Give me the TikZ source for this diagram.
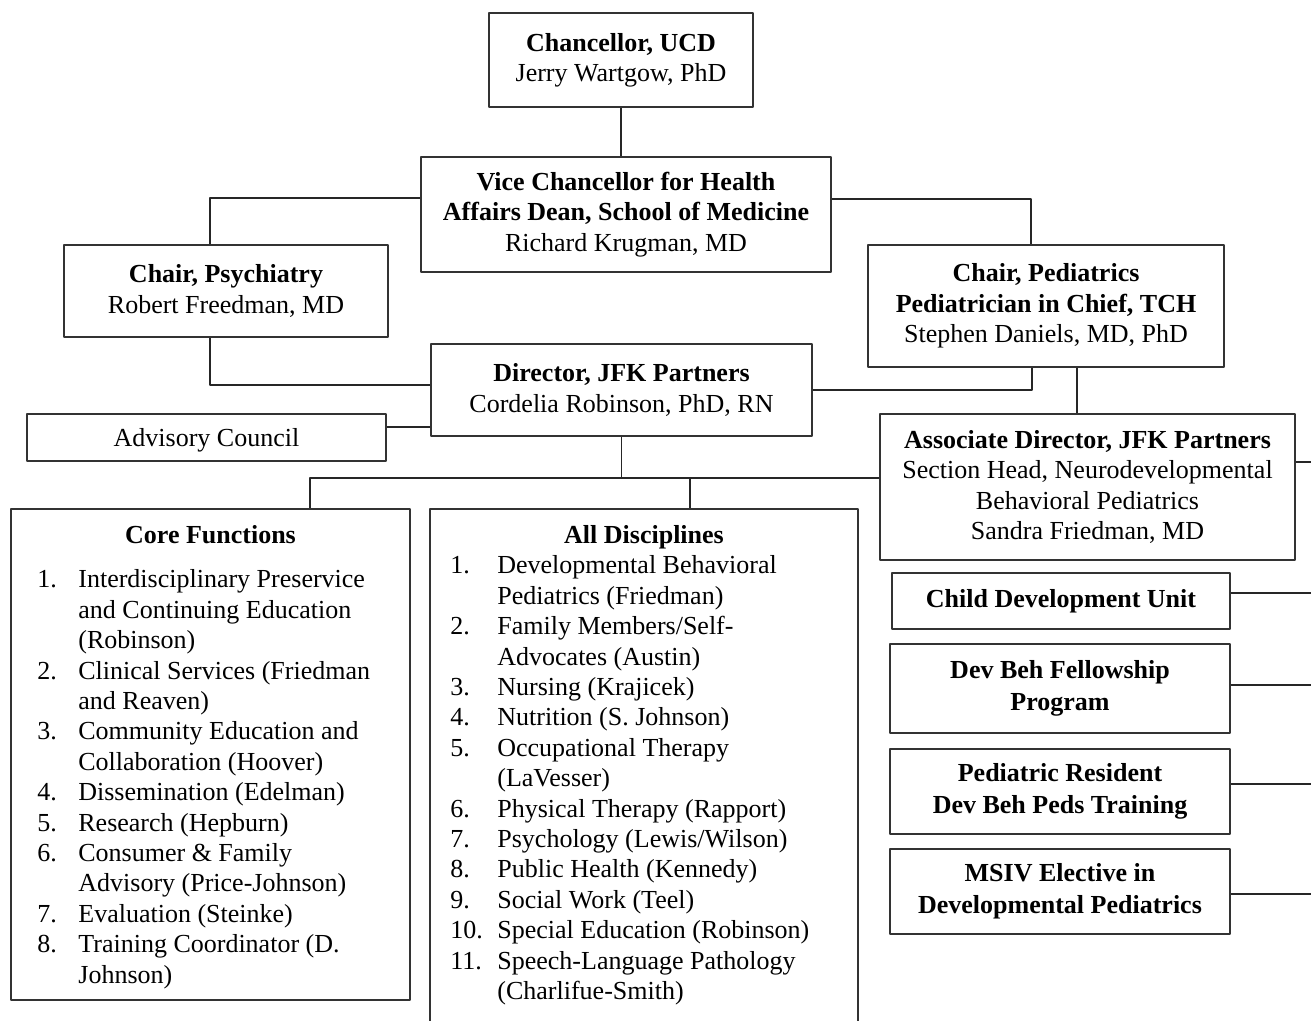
\documentclass[tikz,border=0pt]{standalone}
\usepackage{fontspec}
\setmainfont{Liberation Serif}
\usetikzlibrary{calc}
\newlength\itmw
\newcommand\itm[2]{\makebox[\itmw][l]{#1}#2}
\begin{document}
\begin{tikzpicture}[x=0.5pt,y=-0.5pt,line join=round,font=\fontsize{13}{15.2}\selectfont,
    box/.style={draw=black!80,line width=1.1pt,align=center,inner sep=0pt},
    unit/.style={box,font=\fontsize{13}{16}\selectfont\bfseries},
    link/.style={line width=0.75pt,draw=black!85}]
    \useasboundingbox (0,0) rectangle (1311,1021);
    % top of the chart
    \node[box,minimum width=132pt,minimum height=47pt] (chan) at (621,60) {\textbf{Chancellor, UCD}\\Jerry Wartgow, PhD};
    \node[box,minimum width=205pt,minimum height=57.5pt] (vc) at (626,214.5) {\textbf{Vice Chancellor for Health}\\\textbf{Affairs Dean, School of Medicine}\\Richard Krugman, MD};
    \node[box,minimum width=162pt,minimum height=46pt] (psych) at (226,291) {\textbf{Chair, Psychiatry}\\Robert Freedman, MD};
    \node[box,minimum width=178pt,minimum height=61pt] (peds) at (1046,306) {\textbf{Chair, Pediatrics}\\\textbf{Pediatrician in Chief, TCH}\\Stephen Daniels, MD, PhD};
    \node[box,minimum width=190.5pt,minimum height=46pt] (dir) at (621.5,390) {\textbf{Director, JFK Partners}\\Cordelia Robinson, PhD, RN};
    \node[box,minimum width=179.5pt,minimum height=23.5pt,text depth=0pt] (adv) at (206.5,437.5) {Advisory Council};
    \node[box,minimum width=207.5pt,minimum height=73pt] (assoc) at (1087.5,487) {\textbf{Associate Director, JFK Partners}\\Section Head, Neurodevelopmental\\Behavioral Pediatrics\\Sandra Friedman, MD};
    % lists
    \node[box,minimum width=199.5pt,minimum height=245.5pt] (core) at (210.5,754.5) {};
    \node[anchor=base] (coretitle) at (210.5,543.5) {\textbf{Core Functions}};
    \setlength\itmw{20.5pt}
    \node[anchor=north west,inner sep=0pt,align=left] (corelist) at (37,569.5) {%
        \itm{1.}{Interdisciplinary Preservice}\\\itm{}{and Continuing Education}\\\itm{}{(Robinson)}\\
        \itm{2.}{Clinical Services (Friedman}\\\itm{}{and Reaven)}\\
        \itm{3.}{Community Education and}\\\itm{}{Collaboration (Hoover)}\\
        \itm{4.}{Dissemination (Edelman)}\\
        \itm{5.}{Research (Hepburn)}\\
        \itm{6.}{Consumer \& Family}\\\itm{}{Advisory (Price-Johnson)}\\
        \itm{7.}{Evaluation (Steinke)}\\
        \itm{8.}{Training Coordinator (D.}\\\itm{}{Johnson)}};
    \node[box,minimum width=214pt,minimum height=260.5pt] (disc) at (644,769.5) {};
    \node[anchor=base] (disctitle) at (644,543.5) {\textbf{All Disciplines}};
    \setlength\itmw{23.5pt}
    \node[anchor=north west,inner sep=0pt,align=left] (disclist) at (450,555.5) {%
        \itm{1.}{Developmental Behavioral}\\\itm{}{Pediatrics (Friedman)}\\
        \itm{2.}{Family Members/Self-}\\\itm{}{Advocates (Austin)}\\
        \itm{3.}{Nursing (Krajicek)}\\
        \itm{4.}{Nutrition (S. Johnson)}\\
        \itm{5.}{Occupational Therapy}\\\itm{}{(LaVesser)}\\
        \itm{6.}{Physical Therapy (Rapport)}\\
        \itm{7.}{Psychology (Lewis/Wilson)}\\
        \itm{8.}{Public Health (Kennedy)}\\
        \itm{9.}{Social Work (Teel)}\\
        \itm{10.}{Special Education (Robinson)}\\
        \itm{11.}{Speech-Language Pathology}\\\itm{}{(Charlifue-Smith)}};
    % units under the associate director
    \node[unit,minimum width=169pt,minimum height=28pt] (cdu) at (1061,601) {Child Development Unit};
    \node[unit,minimum width=170pt,minimum height=44.5pt] (dbf) at (1060,688.5) {Dev Beh Fellowship\\Program};
    \node[unit,minimum width=170pt,minimum height=42.5pt] (pr) at (1060,791.5) {Pediatric Resident\\Dev Beh Peds Training};
    \node[unit,minimum width=170pt,minimum height=42.5pt] (msiv) at (1060,891.5) {MSIV Elective in\\Developmental Pediatrics};
    % connectors
    \draw[link] (chan.south) -- (chan.south |- vc.north);
    \draw[link,line width=1.1pt] ($(vc.west)+(0,-16.5)$) -| ($(psych.north)+(-16,0)$);
    \draw[link] ($(vc.east)+(0,-15.5)$) -| ($(peds.north)+(-15,0)$);
    \draw[link] ($(psych.south)+(-16,0)$) |- ($(dir.west)+(0,-5)$);
    \draw[link] ($(adv.east)+(0,-10.5)$) -- ($(dir.west)+(0,37)$);
    \draw[link] (dir.east) -| ($(peds.south)+(-14,0)$);
    \draw[link] ($(peds.south)+(31,0)$) -- ($(assoc.north)+(-10.5,0)$);
    \draw[link] (dir.south) -- ++(0,42);
    \draw[link] ($(core.north)+(99.5,0)$) |- ($(assoc.west)+(0,-9)$);
    \draw[link] ($(disc.north)+(46,0)$) -- ++(0,-31);
    \draw[link] ($(assoc.east)+(0,-25)$) -- ++(30,0);
    \draw[link] ($(cdu.east)+(0,-8)$) -- ++(90,0);
    \draw[link] ($(dbf.east)+(0,-3.5)$) -- ++(90,0);
    \draw[link] ($(pr.east)+(0,-7.5)$) -- ++(90,0);
    \draw[link,line width=1.1pt] ($(msiv.east)+(0,2.5)$) -- ++(90,0);
\end{tikzpicture}
\end{document}
